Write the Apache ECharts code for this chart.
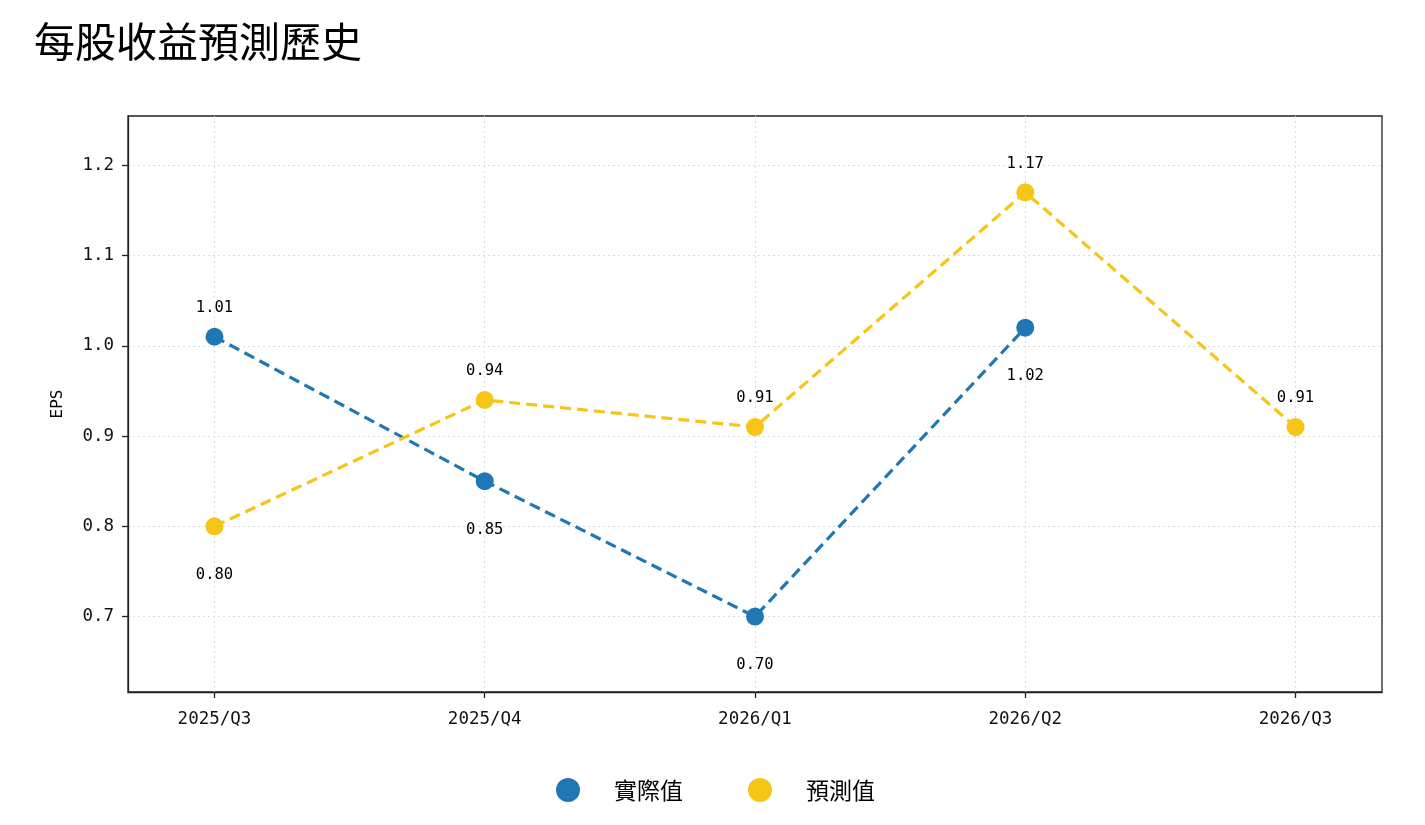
<!DOCTYPE html>
<html><head><meta charset="utf-8">
<script src="https://cdn.jsdelivr.net/npm/echarts@6/dist/echarts.min.js"></script>
<style>html,body{margin:0;padding:0;background:#fff}#c{width:1425px;height:825px}</style>
</head><body><div id="c"></div>
<script>
const categories = ['2025/Q3','2025/Q4','2026/Q1','2026/Q2','2026/Q3'];
const actual = [1.01, 0.85, 0.70, 1.02, null];
const forecast = [0.80, 0.94, 0.91, 1.17, 0.91];
const yTicks = [0.7, 0.8, 0.9, 1.0, 1.1, 1.2];
const FONT = '"DejaVu Sans Mono","Noto Sans CJK TC","Noto Sans CJK SC",monospace';
const CJK = '"Noto Sans CJK TC","Noto Sans CJK SC",sans-serif';

function buildData(vals, other){
  return vals.map((v,i)=>{
    if (v === null) return [i, null];
    const o = other[i];
    const above = (o === null || o === undefined) || v >= o;
    return {value:[i, v], label:{position: above ? 'top':'bottom', distance: above ? 12 : 32}};
  });
}

const chart = echarts.init(document.getElementById('c'));
const xIdx = categories.map((_,i)=>i);
chart.setOption({
  animation:false,
  title:{text:'每股收益預測歷史', left:29, top:16, textStyle:{fontFamily:CJK, fontSize:41, fontWeight:'normal', color:'#000'}},
  grid:{left:128, right:43, top:116, bottom:133, show:true, borderColor:'#222', borderWidth:1.3, backgroundColor:'transparent'},
  legend:{bottom:18, left:551, icon:'circle', itemWidth:24, itemHeight:24, itemGap:65,
    textStyle:{fontFamily:CJK, fontSize:23, color:'#000', padding:[0,0,0,29]},
    data:['實際值','預測值']},
  xAxis:{type:'value', min:-0.32, max:4.32,
    axisLine:{show:true, onZero:false, lineStyle:{color:'#222', width:1.3}},
    axisTick:{show:true, length:6, customValues:xIdx, lineStyle:{color:'#222', width:1.3}},
    axisLabel:{customValues:xIdx, formatter:v=>categories[Math.round(v)], fontFamily:FONT, fontSize:17.5, color:'#111', margin:19},
    splitLine:{show:true, lineStyle:{color:'#ddd', type:[2,3], width:1}}},
  yAxis:{type:'value', min:0.6165, max:1.2545, name:'EPS', nameLocation:'middle', nameGap:62,
    nameTextStyle:{fontFamily:FONT, fontSize:16, color:'#000'},
    axisLine:{show:true, onZero:false, lineStyle:{color:'#222', width:1.3}},
    axisTick:{show:true, length:6, customValues:yTicks, lineStyle:{color:'#222', width:1.3}},
    axisLabel:{customValues:yTicks, formatter:v=>v.toFixed(1), fontFamily:FONT, fontSize:17.5, color:'#111', margin:14},
    splitLine:{show:true, lineStyle:{color:'#ddd', type:[2,3], width:1}}},
  series:[
    {name:'實際值', type:'line', data:buildData(actual, forecast), symbol:'circle', symbolSize:18,
     itemStyle:{color:'#1f77b4'}, lineStyle:{color:'#1f77b4', width:3.2, type:[11,6]},
     label:{show:true, formatter:p=>p.value[1].toFixed(2), fontFamily:FONT, fontSize:15.5, color:'#000'}},
    {name:'預測值', type:'line', data:buildData(forecast, actual), symbol:'circle', symbolSize:18,
     itemStyle:{color:'#f5c518'}, lineStyle:{color:'#f5c518', width:3.2, type:[11,6]},
     label:{show:true, formatter:p=>p.value[1].toFixed(2), fontFamily:FONT, fontSize:15.5, color:'#000'}}
  ]
});
</script></body></html>
